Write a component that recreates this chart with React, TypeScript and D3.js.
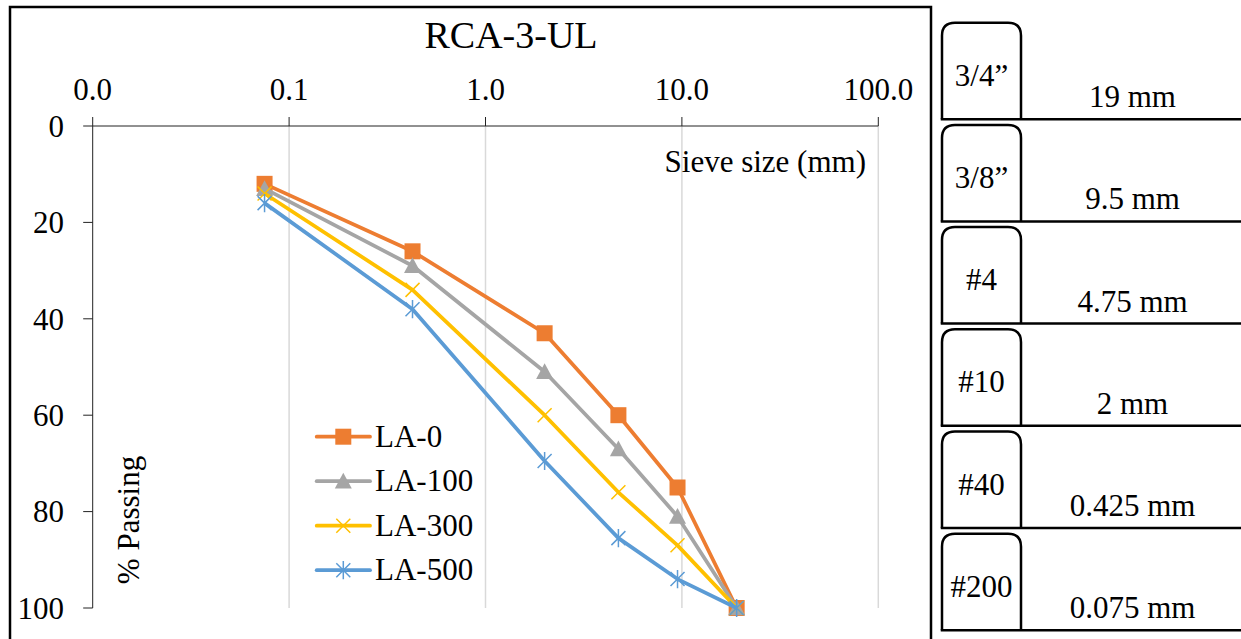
import React from "react";
import * as d3 from "d3";

const sieveSizes = [0.075, 0.425, 2, 4.75, 9.5, 19];
const seriesNames = ["LA-0", "LA-100", "LA-300", "LA-500"];
const la0 = [12, 26, 43, 60, 75, 100];
const la100 = [13, 29, 51, 67, 81, 100];
const la300 = [14, 34, 60, 76, 87, 100];
const la500 = [16, 38, 69.5, 85.5, 94, 100];
const seriesColors = ["#ED7D31", "#A5A5A5", "#FFC000", "#5B9BD5"];
const markerTypes = ["square", "triangle", "x", "star"];
const xTicks = [0.01, 0.1, 1, 10, 100];
const yTicks = [0, 20, 40, 60, 80, 100];
const sieveLabels = ["3/4\u201D", "3/8\u201D", "#4", "#10", "#40", "#200"];
const sieveMm = ["19 mm", "9.5 mm", "4.75 mm", "2 mm", "0.425 mm", "0.075 mm"];

const FONT = "'Liberation Serif', 'Times New Roman', serif";

function Marker({ type, x, y, color }: { type: string; x: number; y: number; color: string }) {
  if (type === "square") {
    return <rect x={x - 8} y={y - 8} width={16} height={16} fill={color} />;
  }
  if (type === "triangle") {
    const s = 8.5;
    return <path d={`M${x},${y - s} L${x + s},${y + s * 0.85} L${x - s},${y + s * 0.85} Z`} fill={color} />;
  }
  if (type === "x") {
    const s = 7;
    return (
      <path
        d={`M${x - s},${y - s} L${x + s},${y + s} M${x - s},${y + s} L${x + s},${y - s}`}
        stroke={color}
        strokeWidth={1.5}
        fill="none"
      />
    );
  }
  const s = 7;
  return (
    <path
      d={`M${x - s},${y - s} L${x + s},${y + s} M${x - s},${y + s} L${x + s},${y - s} M${x},${y - s * 1.3} L${x},${y + s * 1.3}`}
      stroke={color}
      strokeWidth={1.5}
      fill="none"
    />
  );
}

export default function App() {
  const W = 1241;
  const H = 639;
  const x = d3.scaleLog().domain([0.01, 100]).range([92.7, 878.3]);
  const y = d3.scaleLinear().domain([0, 100]).range([126, 608]);
  const fmt = d3.format(".1f");
  const allSeries = [la0, la100, la300, la500];
  const line = d3
    .line<[number, number]>()
    .x((d) => x(d[0]))
    .y((d) => y(d[1]));

  const boxX0 = 942;
  const boxX1 = 1021;
  const r = 13;
  const rowTop0 = 22.7;
  const rowPitch = 102.2;
  const boxH = 96.5;
  const FS = 31;

  return (
    <svg
      width={W}
      height={H}
      style={{ position: "absolute", left: 0, top: 0, background: "#fff" }}
      fontFamily={FONT}
    >
      <rect x={0} y={0} width={W} height={H} fill="#fff" />
      {/* chart frame */}
      <rect x={10} y={7} width={921} height={700} fill="none" stroke="#000" strokeWidth={2.5} />

      {/* title */}
      <text x={511} y={48} textAnchor="middle" fontSize={38} fill="#000">
        RCA-3-UL
      </text>

      {/* gridlines */}
      {xTicks.slice(1).map((t) => (
        <line key={"g" + t} x1={x(t)} x2={x(t)} y1={y(0)} y2={y(100)} stroke="#D9D9D9" strokeWidth={1.5} />
      ))}

      {/* x axis */}
      <line x1={x(0.01)} x2={x(100)} y1={y(0)} y2={y(0)} stroke="#222" strokeWidth={1} />
      {xTicks.map((t) => (
        <g key={"xt" + t}>
          <line x1={x(t)} x2={x(t)} y1={y(0) - 9} y2={y(0)} stroke="#222" strokeWidth={1} />
          <text x={x(t)} y={99.5} textAnchor="middle" fontSize={FS} fill="#000">
            {fmt(t)}
          </text>
        </g>
      ))}
      <text x={866} y={172} textAnchor="end" fontSize={FS} fill="#000">
        Sieve size (mm)
      </text>

      {/* y axis */}
      <line x1={x(0.01)} x2={x(0.01)} y1={y(0)} y2={y(100)} stroke="#222" strokeWidth={1} />
      {yTicks.map((t) => (
        <g key={"yt" + t}>
          <line x1={x(0.01) - 9.5} x2={x(0.01)} y1={y(t)} y2={y(t)} stroke="#222" strokeWidth={1} />
          <text x={64} y={y(t)} dy="0.35em" textAnchor="end" fontSize={FS} fill="#000">
            {t}
          </text>
        </g>
      ))}
      <text
        transform={`translate(139,520) rotate(-90)`}
        textAnchor="middle"
        fontSize={FS}
        fill="#000"
      >
        % Passing
      </text>

      {/* series */}
      {allSeries.map((vals, si) => {
        const pts: [number, number][] = sieveSizes.map((s, i) => [s, vals[i]]);
        return (
          <g key={"s" + si}>
            <path d={line(pts) || ""} fill="none" stroke={seriesColors[si]} strokeWidth={3.75} strokeLinejoin="round" />
            {pts.map((p, i) => (
              <Marker key={i} type={markerTypes[si]} x={x(p[0])} y={y(p[1])} color={seriesColors[si]} />
            ))}
          </g>
        );
      })}

      {/* legend */}
      {seriesNames.map((n, i) => {
        const cy = 436.7 + i * 44.5;
        return (
          <g key={"l" + n}>
            <line x1={316.7} x2={370} y1={cy} y2={cy} stroke={seriesColors[i]} strokeWidth={3.75} strokeLinecap="round" />
            <Marker type={markerTypes[i]} x={343.3} y={cy} color={seriesColors[i]} />
            <text x={375} y={cy + 9.8} fontSize={FS} fill="#000">
              {n}
            </text>
          </g>
        );
      })}

      {/* right panel: sieve table */}
      {sieveLabels.map((lab, i) => {
        const top = rowTop0 + i * rowPitch;
        const bot = top + boxH;
        const d = `M${boxX0},${bot} L${boxX0},${top + r} Q${boxX0},${top} ${boxX0 + r},${top} L${boxX1 - r},${top} Q${boxX1},${top} ${boxX1},${top + r} L${boxX1},${bot}`;
        return (
          <g key={"row" + i}>
            <path d={d} fill="none" stroke="#000" strokeWidth={2.5} />
            <line x1={boxX0 - 1.25} x2={W} y1={bot} y2={bot} stroke="#000" strokeWidth={2.5} />
            <text x={(boxX0 + boxX1) / 2} y={top + 63} textAnchor="middle" fontSize={FS} fill="#000">
              {lab}
            </text>
            <text x={1132.5} y={bot - 12} textAnchor="middle" fontSize={FS} fill="#000">
              {sieveMm[i]}
            </text>
          </g>
        );
      })}
    </svg>
  );
}
